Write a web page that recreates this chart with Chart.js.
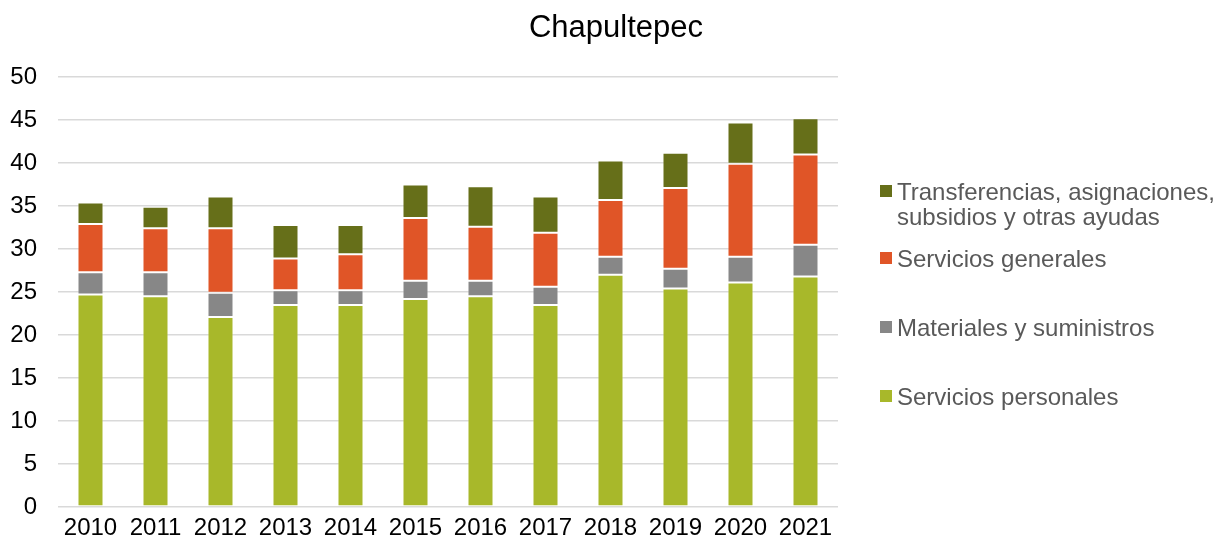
<!DOCTYPE html>
<html>
<head>
<meta charset="utf-8">
<script src="https://cdn.jsdelivr.net/npm/chart.js@4"></script>
<style>
  html, body { margin: 0; padding: 0; background: #fff; }
  #wrap { position: relative; width: 1223px; height: 547px; }
  #title { position: absolute; left: 416px; width: 400px; top: 8px; text-align: center; font-family: "Liberation Sans", Arial, sans-serif; font-size: 31px; line-height: 38px; color: #000; }
  #legend { position: absolute; left: 0; top: 0; font-family: "Liberation Sans", Arial, sans-serif; font-size: 24px; color: #595959; }
  .item { position: absolute; left: 880px; white-space: nowrap; line-height: 25px; }
  .sw { position: absolute; left: 0; width: 12px; height: 12px; }
  .txt { position: absolute; left: 17px; top: 0; }
</style>
</head>
<body>
<div id="wrap">
  <canvas id="c" width="1223" height="547"></canvas>
  <div id="title"></div>
  <div id="legend"></div>
</div>
<script>
const title = "Chapultepec";
const categories = ["2010","2011","2012","2013","2014","2015","2016","2017","2018","2019","2020","2021"];
const seriesNames = ["Servicios personales", "Materiales y suministros", "Servicios generales", "Transferencias, asignaciones,\nsubsidios y otras ayudas"];
const serviciosPersonales = [24.7, 24.5, 22.1, 23.5, 23.5, 24.2, 24.5, 23.5, 27.0, 25.4, 26.1, 26.8];
const materialesSuministros = [2.6, 2.8, 2.8, 1.7, 1.7, 2.1, 1.8, 2.1, 2.1, 2.3, 3.0, 3.7];
const serviciosGenerales = [5.6, 5.1, 7.5, 3.7, 4.2, 7.3, 6.3, 6.3, 6.6, 9.4, 10.8, 10.5];
const transferencias = [2.5, 2.5, 3.7, 3.9, 3.4, 3.9, 4.7, 4.2, 4.6, 4.1, 4.8, 4.2];
const yTicks = [0, 5, 10, 15, 20, 25, 30, 35, 40, 45, 50];

const colors = ["#a8b82a", "#878787", "#e05527", "#666f19"];
const values = [serviciosPersonales, materialesSuministros, serviciosGenerales, transferencias];
const FONT = "'Liberation Sans', Arial, sans-serif";

document.getElementById("title").textContent = title;

const datasets = values.map((v, i) => ({
  label: seriesNames[i],
  data: v,
  backgroundColor: colors[i],
  borderColor: "rgba(255,255,255,0.3)",
  borderWidth: 1,
  borderSkipped: false,
  categoryPercentage: 1.0,
  barPercentage: 0.4
}));

new Chart(document.getElementById("c"), {
  type: "bar",
  data: { labels: categories, datasets },
  options: {
    responsive: false,
    animation: false,
    layout: { padding: { left: 0, right: 385, top: 77, bottom: 0 } },
    plugins: {
      legend: { display: false },
      tooltip: { enabled: false },
      title: { display: false }
    },
    scales: {
      x: {
        stacked: true,
        afterFit: (s) => { s.height = 40; },
        grid: { display: false, drawTicks: false },
        border: { display: false },
        ticks: { color: "#000", font: { family: FONT, size: 24 }, padding: 7, maxRotation: 0 }
      },
      y: {
        stacked: true,
        min: 0, max: 50,
        afterBuildTicks: (s) => { s.ticks = yTicks.map(v => ({ value: v })); },
        afterFit: (s) => { s.width = 58; },
        grid: { color: "#d9d9d9", lineWidth: 1.5, drawTicks: false },
        border: { display: false },
        ticks: { color: "#000", font: { family: FONT, size: 24 }, padding: 21 }
      }
    }
  }
});

// HTML legend (reverse order, as in the reference)
const legendTops = [179, 246, 315, 384];
const legend = document.getElementById("legend");
const order = [3, 2, 1, 0];
order.forEach((idx, k) => {
  const item = document.createElement("div");
  item.className = "item";
  item.style.top = legendTops[k] + "px";
  const sw = document.createElement("div");
  sw.className = "sw";
  sw.style.background = colors[idx];
  sw.style.top = "6px";
  const txt = document.createElement("div");
  txt.className = "txt";
  txt.innerHTML = seriesNames[idx].split("\n").join("<br>");
  item.appendChild(sw);
  item.appendChild(txt);
  legend.appendChild(item);
});
</script>
</body>
</html>
